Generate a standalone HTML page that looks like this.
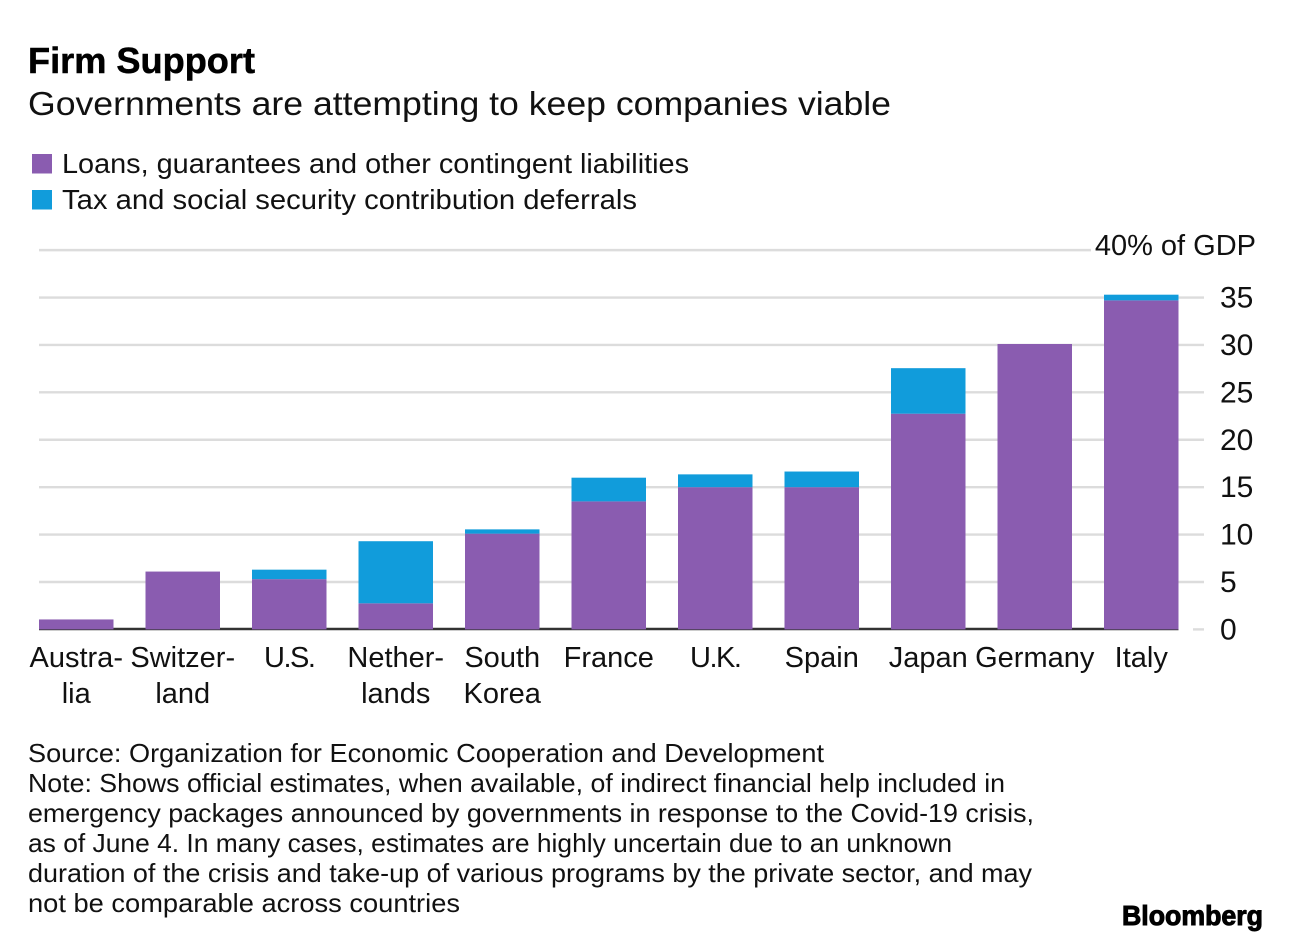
<!DOCTYPE html>
<html lang="en">
<head>
<meta charset="utf-8">
<title>Firm Support</title>
<style>
html,body{margin:0;padding:0;background:#fff;width:1290px;height:942px;overflow:hidden}
svg{display:block}
text{font-family:"Liberation Sans",sans-serif;fill:#111}
</style>
</head>
<body>
<svg id="chart" xmlns="http://www.w3.org/2000/svg" width="1290" height="942" viewBox="0 0 1290 942">
  <rect width="1290" height="942" fill="#fff"/>
  <text x="28" y="73" font-size="36" font-weight="bold" textLength="227" lengthAdjust="spacingAndGlyphs" style="fill:#000;stroke:#000;stroke-width:.5">Firm Support</text>
  <text x="28" y="115" font-size="33" textLength="863" lengthAdjust="spacingAndGlyphs">Governments are attempting to keep companies viable</text>

  <rect x="32" y="154" width="20" height="19.5" fill="#8a5cb0"/>
  <text x="62" y="173" font-size="28" textLength="627" lengthAdjust="spacingAndGlyphs">Loans, guarantees and other contingent liabilities</text>
  <rect x="32" y="190" width="20" height="19.5" fill="#119cdb"/>
  <text x="62" y="209" font-size="28" textLength="575" lengthAdjust="spacingAndGlyphs">Tax and social security contribution deferrals</text>

  <g id="grid"></g>
  <g id="bars"></g>
  <g id="yticks"></g>
  <g id="xticks"></g>

  <g font-size="26">
    <text x="28" y="762" textLength="796" lengthAdjust="spacingAndGlyphs">Source: Organization for Economic Cooperation and Development</text>
    <text x="28" y="792" textLength="977" lengthAdjust="spacingAndGlyphs">Note: Shows official estimates, when available, of indirect financial help included in</text>
    <text x="28" y="822" textLength="1006" lengthAdjust="spacingAndGlyphs">emergency packages announced by governments in response to the Covid-19 crisis,</text>
    <text x="28" y="852" textLength="924" lengthAdjust="spacingAndGlyphs">as of June 4. In many cases, estimates are highly uncertain due to an unknown</text>
    <text x="28" y="882" textLength="1004" lengthAdjust="spacingAndGlyphs">duration of the crisis and take-up of various programs by the private sector, and may</text>
    <text x="28" y="912" textLength="432" lengthAdjust="spacingAndGlyphs">not be comparable across countries</text>
  </g>
  <text x="1122" y="925" font-size="28" font-weight="bold" textLength="141" lengthAdjust="spacingAndGlyphs" style="fill:#000;stroke:#000;stroke-width:1">Bloomberg</text>
</svg>
<script>
var categories = [["Austra-","lia"],["Switzer-","land"],["U.S."],["Nether-","lands"],["South","Korea"],["France"],["U.K."],["Spain"],["Japan"],["Germany"],["Italy"]];
var loans = [1.05,6.1,5.3,2.75,10.1,13.5,15,15,22.75,30.1,34.7];
var deferrals = [0,0,1,6.55,0.45,2.5,1.35,1.65,4.8,0,0.6];
var yTickValues = [0,5,10,15,20,25,30,35,40];
var topTickSuffix = "% of GDP";

var NS = "http://www.w3.org/2000/svg";
var baseY = 629.4, unitPx = 9.482, firstBarX = 39, barPitch = 106.5, barWidth = 74.5;
function yScale(v){ return baseY - v * unitPx; }
function xScale(i){ return firstBarX + i * barPitch; }
function make(tag, parent, attrs){
  var el = document.createElementNS(NS, tag);
  for (var k in attrs) el.setAttribute(k, attrs[k]);
  parent.appendChild(el);
  return el;
}
var grid = document.getElementById("grid");
var barsG = document.getElementById("bars");
var yG = document.getElementById("yticks");
var xG = document.getElementById("xticks");
var maxTick = yTickValues[yTickValues.length - 1];

yTickValues.forEach(function(v){
  var y = yScale(v);
  var line;
  if (v === 0) {
    line = make("line", grid, {x1:1193, x2:1204, y1:y, y2:y, stroke:"#dcdcdc", "stroke-width":2.4});
  } else if (v === maxTick) {
    line = make("line", grid, {x1:firstBarX, x2:1091, y1:y, y2:y, stroke:"#dcdcdc", "stroke-width":2.4});
  } else {
    line = make("line", grid, {x1:firstBarX, x2:1204, y1:y, y2:y, stroke:"#dcdcdc", "stroke-width":2.4});
  }
  
  

  var label;
  if (v === maxTick) {
    label = make("text", yG, {x:1256, y:y + 5, "font-size":29, "text-anchor":"end"});
    label.textContent = v + topTickSuffix;
  } else {
    label = make("text", yG, {x:1220, y:y + 10, "font-size":30});
    label.textContent = v;
  }
  
  
});

var axis = make("line", grid, {x1:firstBarX, x2:xScale(categories.length - 1) + barWidth, y1:baseY - 0.4, y2:baseY - 0.4, stroke:"#333", "stroke-width":2.4});



categories.forEach(function(lines, i){
  var x = xScale(i);
  var purple = make("rect", barsG, {x:x, y:yScale(loans[i]), width:barWidth, height:baseY - yScale(loans[i]), fill:"#8a5cb0"});
  
  
  if (deferrals[i] > 0) {
    var top = loans[i] + deferrals[i];
    var blue = make("rect", barsG, {x:x, y:yScale(top), width:barWidth, height:yScale(loans[i]) - yScale(top), fill:"#119cdb"});
    
    
  }
  lines.forEach(function(t, j){
    var label = make("text", xG, {x:x + barWidth / 2, y:667 + j * 36, "font-size":29, "text-anchor":"middle"});
    label.textContent = t;
    if (t.indexOf(".") >= 0) label.setAttribute("letter-spacing", "-1.5");
    
    
  });
});
</script>
</body>
</html>
